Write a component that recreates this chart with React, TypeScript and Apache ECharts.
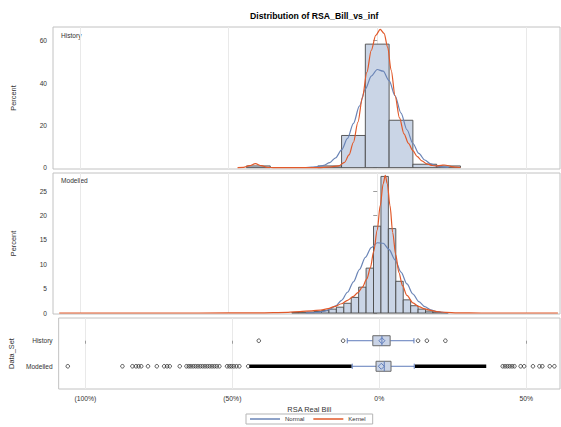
import React, { useEffect, useRef } from "react";
import * as echarts from "echarts";

// ---------- shared x scale (RSA Real Bill, in %) ----------
const X_MIN = -109.1;
const X_MAX = 61.5;
const xTickValues = [-100, -50, 0, 50];
const xTickLabels = ["(100%)", "(50%)", "0%", "50%"];

// ---------- History panel ----------
const HISTORY_BIN_WIDTH = 8;
const historyBinCenters = [-40, -16, -8, 0, 8, 16, 24];
const historyPercent = [0.8, 0.8, 15.2, 58.4, 22.4, 1.6, 0.8];
const historyPercentTicks = [0, 20, 40, 60];

const historyNormalX = [-24, -22, -20, -18, -16, -14, -12, -10, -8, -6, -4, -2, 0, 2, 4, 6, 8, 10, 12, 14, 16, 18, 20, 22, 24];
const historyNormalY = [0.07, 0.19, 0.47, 1.11, 2.37, 4.65, 8.37, 13.8, 20.9, 29.1, 37.1, 43.3, 46.4, 45.6, 41.1, 34.0, 25.8, 17.9, 11.4, 6.7, 3.6, 1.76, 0.8, 0.33, 0.13];

const historyKernelX = [-47, -45, -43, -41, -39, -37, -35, -20, -16, -13, -11, -9.5, -8, -6.5, -5, -3.5, -2, -0.5, 1, 2.3, 3.5, 4.7, 6, 7.5, 9, 10.5, 12, 13.5, 15, 16.7, 18.5, 20, 21.5, 22.5, 23.8, 25, 26.5, 28];
const historyKernelY = [0, 0.1, 0.9, 1.9, 0.9, 0.1, 0, 0, 0.3, 0.8, 2.5, 6, 12, 21.5, 33, 45, 55.5, 62.5, 65.4, 63.5, 57, 46, 34, 23.5, 16, 11.5, 8, 5.2, 3.2, 1.8, 1.0, 0.8, 1.1, 1.25, 1.0, 0.5, 0.2, 0.05];

// ---------- Modelled panel ----------
const MODELLED_BIN_WIDTH = 2.5;
const modelledBinCenters = [-27.5, -25, -22.5, -20, -17.5, -15, -12.5, -10, -7.5, -5, -2.5, 0, 2.5, 5, 7.5, 10, 12.5, 15, 17.5, 20, 22.5];
const modelledPercent = [0.1, 0.15, 0.2, 0.3, 0.5, 0.8, 1.2, 2.0, 3.2, 5.3, 9.2, 17.8, 28.0, 17.3, 6.5, 2.7, 1.5, 0.8, 0.4, 0.2, 0.1];
const modelledPercentTicks = [0, 5, 10, 15, 20, 25];

const modelledNormalX = [-24, -22, -20, -18, -16, -14, -12, -10, -8, -6, -4, -2, 0, 2, 4, 6, 8, 10, 12, 14, 16, 18, 20, 22, 24];
const modelledNormalY = [0.02, 0.06, 0.15, 0.35, 0.75, 1.45, 2.6, 4.26, 6.4, 8.9, 11.4, 13.4, 14.4, 14.3, 13.0, 10.9, 8.4, 5.96, 3.9, 2.33, 1.3, 0.65, 0.3, 0.13, 0.05];

const modelledKernelX = [-107, -60, -40, -30, -26, -22, -19, -16.5, -14.5, -12, -10, -8, -6.5, -5, -3.5, -2.3, -1.2, 0, 1, 2, 2.7, 3.4, 4.3, 5.2, 6.2, 7.3, 8.5, 10, 12, 14, 16, 18, 20, 23, 27, 35, 60.8];
const modelledKernelY = [0, 0.01, 0.05, 0.15, 0.3, 0.45, 0.6, 0.9, 1.3, 1.9, 2.6, 3.4, 4.2, 5.3, 7.0, 9.3, 12.6, 17, 22, 26.5, 28.2, 26.5, 22, 16.5, 12, 8.3, 5.6, 3.6, 2.1, 1.3, 0.85, 0.55, 0.3, 0.12, 0.03, 0, 0];

// ---------- Box plots (Data_Set) ----------
const dataSets = ["History", "Modelled"];
// [whisker low, Q1, median, Q3, whisker high, mean]
const historyBox = [-10.9, -2.2, 0.9, 3.7, 11.8, 0.9];
const modelledBox = [-9.2, -1.1, 1.7, 4.0, 11.9, 0.7];
const historyOutliers = [-41, -12.3, 13.2, 16.2, 22.5];
const modelledOutliers = [
  -106, -87.4, -84, -82.8, -81.9, -81, -78.7, -75.7, -73.2, -72.2, -71.3, -67.9,
  -65.6, -64.8, -64.1, -63.3, -62.5, -61.7, -60.9, -60.1, -59.3, -58.5, -57.7, -56.9, -56.1, -55.3, -54.4,
  -51.8, -51.0, -50.3, -49.5, -48.6, -47.6, -44.6,
  42.0, 42.8, 43.6, 44.4, 45.2, 46.0, 48.1, 49.3, 52.3, 54.5, 55.5, 58.0, 59.6,
];
// stretches where the Modelled outliers overlap into a solid run: [from, to]
const modelledOutlierRuns = [
  [-44.2, -9.4],
  [12.1, 36.4],
];

// ---------- styling ----------
const FONT = '"Liberation Sans", Arial, Helvetica, sans-serif';
const TEXT = "#333333";
const FRAME = "#c2c2c2";
const GRIDLINE = "#e9e9e9";
const BAR_FILL = "#cad5e6";
const BAR_EDGE = "#4a4a4a";
const NORMAL = "#6a84b6";
const KERNEL = "#e1592a";
const WHISKER = "#5f7cbb";
const BOX_FILL = "#c9d3e6";
const BOX_EDGE = "#6a6a6a";

const zip = (xs: number[], ys: number[]) => xs.map((x, i) => [x, ys[i]]);

function tickLabel(v: number) {
  const i = xTickValues.findIndex((t) => Math.abs(t - v) < 1e-6);
  return i >= 0 ? xTickLabels[i] : "";
}

function xAxis(gridIndex: number, showLabels: boolean) {
  return {
    type: "value",
    gridIndex,
    min: X_MIN,
    max: X_MAX,
    axisLine: { show: false },
    axisTick: {
      show: showLabels,
      customValues: xTickValues,
      length: 3,
      lineStyle: { color: "#9c9c9c" },
    },
    axisLabel: {
      show: showLabels,
      customValues: xTickValues,
      formatter: (v: number) => tickLabel(v),
      fontSize: 6.8,
      fontFamily: FONT,
      color: TEXT,
      margin: 6,
    },
    splitLine: { show: true, lineStyle: { color: GRIDLINE, width: 1 } },
    name: showLabels ? "RSA Real Bill" : "",
    nameLocation: "middle",
    nameGap: 17,
    nameTextStyle: { fontSize: 7.4, fontFamily: FONT, color: TEXT },
  };
}

function percentAxis(gridIndex: number, min: number, max: number, ticks: number[]) {
  return {
    type: "value",
    gridIndex,
    min,
    max,
    axisLine: { show: false },
    axisTick: { show: true, customValues: ticks, length: 4, lineStyle: { color: "#9c9c9c" } },
    axisLabel: {
      customValues: ticks,
      fontSize: 6.6,
      fontFamily: FONT,
      color: TEXT,
      margin: 6,
    },
    splitLine: { show: false },
    name: "Percent",
    nameLocation: "middle",
    nameRotate: 90,
    nameGap: 36,
    nameTextStyle: { fontSize: 7.4, fontFamily: FONT, color: TEXT },
  };
}

function histogramSeries(axisIndex: number, centers: number[], values: number[], binWidth: number) {
  return {
    type: "custom",
    xAxisIndex: axisIndex,
    yAxisIndex: axisIndex,
    clip: true,
    z: 2,
    encode: { x: 0, y: 1 },
    data: zip(centers, values),
    renderItem: (_params: any, api: any) => {
      const c = api.value(0);
      const h = api.value(1);
      const topLeft = api.coord([c - binWidth / 2, h]);
      const bottomRight = api.coord([c + binWidth / 2, 0]);
      return {
        type: "rect",
        shape: {
          x: topLeft[0],
          y: topLeft[1],
          width: bottomRight[0] - topLeft[0],
          height: bottomRight[1] - topLeft[1],
        },
        style: { fill: BAR_FILL, stroke: BAR_EDGE, lineWidth: 0.9 },
      };
    },
  };
}

function curveSeries(name: string, axisIndex: number, xs: number[], ys: number[], color: string) {
  return {
    name,
    type: "line",
    xAxisIndex: axisIndex,
    yAxisIndex: axisIndex,
    data: zip(xs, ys),
    smooth: 0.3,
    smoothMonotone: "x",
    symbol: "none",
    clip: true,
    z: 3,
    lineStyle: { color, width: 1.2 },
    itemStyle: { color },
  };
}

export default function App() {
  const ref = useRef<HTMLDivElement>(null);

  useEffect(() => {
    if (!ref.current) return;
    const chart = echarts.init(ref.current, undefined, { renderer: "svg" });

    const boxData = [
      [0, ...historyBox],
      [1, ...modelledBox],
    ];

    const option = {
      animation: false,
      backgroundColor: "#ffffff",
      textStyle: { fontFamily: FONT },
      title: {
        text: "Distribution of RSA_Bill_vs_inf",
        left: 250,
        top: 11,
        padding: 0,
        textStyle: { fontSize: 8.7, fontWeight: "bold", fontFamily: FONT, color: "#000" },
      },
      legend: {
        left: 246,
        top: 414,
        padding: [2, 7, 2, 4],
        itemWidth: 30,
        itemHeight: 1.5,
        itemGap: 9,
        borderColor: "#b5b5b5",
        borderWidth: 1,
        textStyle: { fontSize: 6, fontFamily: FONT, color: TEXT, lineHeight: 6 },
        data: [
          { name: "Normal", icon: "rect" },
          { name: "Kernel", icon: "rect" },
        ],
      },
      grid: [
        { left: 53, top: 27, width: 507, height: 142, show: true, borderColor: FRAME, borderWidth: 1 },
        { left: 53, top: 173, width: 507, height: 141, show: true, borderColor: FRAME, borderWidth: 1 },
        { left: 53, top: 318, width: 507, height: 71, show: true, borderColor: FRAME, borderWidth: 1 },
      ],
      xAxis: [xAxis(0, false), xAxis(1, false), xAxis(2, true)],
      yAxis: [
        percentAxis(0, -0.65, 66.5, historyPercentTicks),
        percentAxis(1, -0.2, 28.7, modelledPercentTicks),
        {
          type: "value",
          gridIndex: 2,
          min: -0.89,
          max: 1.89,
          inverse: true,
          axisLine: { show: false },
          axisTick: { show: true, customValues: [0, 1], length: 4, lineStyle: { color: "#9c9c9c" } },
          axisLabel: {
            customValues: [0, 1],
            formatter: (v: number) => dataSets[Math.round(v)] ?? "",
            fontSize: 6.6,
            fontFamily: FONT,
            color: TEXT,
            margin: 6,
          },
          splitLine: { show: false },
          name: "Data_Set",
          nameLocation: "middle",
          nameRotate: 90,
          nameGap: 36,
          nameTextStyle: { fontSize: 7.4, fontFamily: FONT, color: TEXT },
        },
      ],
      graphic: [
        {
          type: "text",
          left: 61,
          top: 32,
          style: { text: "History", fontSize: 6.6, fontFamily: FONT, fill: TEXT },
        },
        {
          type: "text",
          left: 61,
          top: 177,
          style: { text: "Modelled", fontSize: 6.6, fontFamily: FONT, fill: TEXT },
        },
      ],
      series: [
        histogramSeries(0, historyBinCenters, historyPercent, HISTORY_BIN_WIDTH),
        curveSeries("Normal", 0, historyNormalX, historyNormalY, NORMAL),
        curveSeries("Kernel", 0, historyKernelX, historyKernelY, KERNEL),

        histogramSeries(1, modelledBinCenters, modelledPercent, MODELLED_BIN_WIDTH),
        curveSeries("Normal", 1, modelledNormalX, modelledNormalY, NORMAL),
        curveSeries("Kernel", 1, modelledKernelX, modelledKernelY, KERNEL),

        // solid runs of overlapping Modelled outliers
        {
          type: "custom",
          xAxisIndex: 2,
          yAxisIndex: 2,
          clip: true,
          z: 2,
          encode: { x: [0, 1], y: 2 },
          data: modelledOutlierRuns.map(([a, b]) => [a, b, 1]),
          renderItem: (_p: any, api: any) => {
            const a = api.coord([api.value(0), api.value(2)]);
            const b = api.coord([api.value(1), api.value(2)]);
            return {
              type: "line",
              shape: { x1: a[0], y1: a[1], x2: b[0], y2: b[1] },
              style: { stroke: "#000", lineWidth: 3.6 },
            };
          },
        },
        // outlier circles
        {
          type: "scatter",
          xAxisIndex: 2,
          yAxisIndex: 2,
          symbol: "circle",
          symbolSize: 3.6,
          z: 3,
          itemStyle: { color: "rgba(255,255,255,0)", borderColor: "#000", borderWidth: 0.8 },
          data: [
            ...historyOutliers.map((v) => [v, 0]),
            ...modelledOutliers.map((v) => [v, 1]),
          ],
        },
        // box plots
        {
          type: "custom",
          xAxisIndex: 2,
          yAxisIndex: 2,
          z: 4,
          encode: { x: [1, 2, 3, 4, 5, 6], y: 0 },
          data: boxData,
          renderItem: (_p: any, api: any) => {
            const row = api.value(0);
            const px = (i: number) => api.coord([api.value(i), row])[0];
            const y = api.coord([0, row])[1];
            const lo = px(1), q1 = px(2), med = px(3), q3 = px(4), hi = px(5), mean = px(6);
            const half = 5;
            const cap = 2.6;
            const d = 3;
            const ws = { stroke: WHISKER, lineWidth: 1 };
            return {
              type: "group",
              children: [
                { type: "line", shape: { x1: lo, y1: y, x2: q1, y2: y }, style: ws },
                { type: "line", shape: { x1: q3, y1: y, x2: hi, y2: y }, style: ws },
                { type: "line", shape: { x1: lo, y1: y - cap, x2: lo, y2: y + cap }, style: ws },
                { type: "line", shape: { x1: hi, y1: y - cap, x2: hi, y2: y + cap }, style: ws },
                {
                  type: "rect",
                  shape: { x: q1, y: y - half, width: q3 - q1, height: half * 2 },
                  style: { fill: BOX_FILL, stroke: BOX_EDGE, lineWidth: 1 },
                },
                { type: "line", shape: { x1: med, y1: y - half, x2: med, y2: y + half }, style: ws },
                {
                  type: "polygon",
                  shape: { points: [[mean, y - d], [mean + d, y], [mean, y + d], [mean - d, y]] },
                  style: { fill: "none", stroke: WHISKER, lineWidth: 1 },
                },
              ],
            };
          },
        },
      ],
    };

    chart.setOption(option as any);
    return () => chart.dispose();
  }, []);

  return (
    <div
      ref={ref}
      style={{ position: "fixed", left: 0, top: 0, width: 561, height: 427, background: "#fff" }}
    />
  );
}
